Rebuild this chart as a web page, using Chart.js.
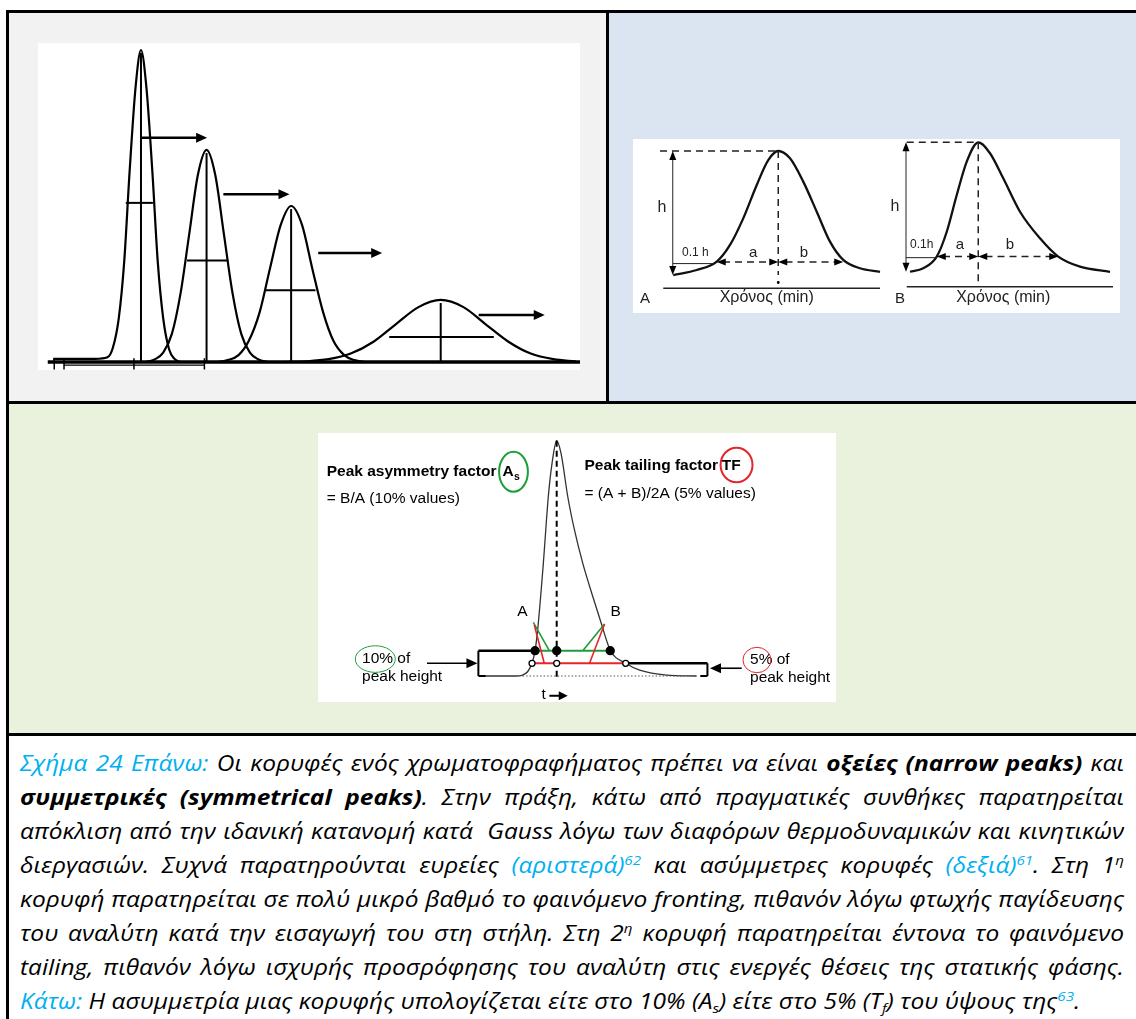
<!DOCTYPE html>
<html>
<head>
<meta charset="utf-8">
<script src="https://cdn.jsdelivr.net/npm/chart.js@4.4.1/dist/chart.umd.min.js"></script>
<style>
  body { margin: 0; background: #fff; width: 1136px; height: 1019px; overflow: hidden; position: relative; }
  .blk { position: absolute; }
  canvas { position: absolute; background: #fff; }
  #caption { position: absolute; left: 20px; top: 746px; width: 1104px; transform-origin: 0 0; font-family: "Open Sans", sans-serif; font-style: italic; font-size: 21px; line-height: 34px; color: #000; }
  #caption div { text-align: justify; text-align-last: justify; height: 34px; }
  #caption div.last { text-align-last: left; }
  #caption .c { color: #00b0f0; }
  #caption b { font-weight: 700; }
  #caption sup { font-size: 13px; vertical-align: 8px; line-height: 0; }
  #caption sub { font-size: 13px; vertical-align: -4px; line-height: 0; }
</style>
</head>
<body>
<!-- cell backgrounds and table rules -->
<div class="blk" style="left:9px;top:13px;width:597px;height:388px;background:#f2f2f2"></div>
<div class="blk" style="left:609px;top:13px;width:527px;height:388px;background:#dbe5f1"></div>
<div class="blk" style="left:9px;top:404px;width:1127px;height:329px;background:#eaf1dd"></div>
<div class="blk" style="left:6px;top:10px;width:1130px;height:3px;background:#000"></div>
<div class="blk" style="left:6px;top:10px;width:3px;height:1009px;background:#000"></div>
<div class="blk" style="left:606px;top:10px;width:3px;height:393px;background:#000"></div>
<div class="blk" style="left:6px;top:401px;width:1130px;height:3px;background:#000"></div>
<div class="blk" style="left:6px;top:733px;width:1130px;height:3px;background:#000"></div>

<canvas id="peaksChart" width="542" height="327" style="left:38px;top:43px"></canvas>
<canvas id="shapeChart" width="487" height="174" style="left:633px;top:139px"></canvas>
<canvas id="tailChart" width="518" height="269" style="left:318px;top:433px"></canvas>

<div id="caption">
  <div><span class="c">Σχήμα 24 Επάνω:</span> Οι κορυφές ενός χρωματοφραφήματος πρέπει να είναι <b>οξείες (narrow peaks)</b> και</div>
  <div><b>συμμετρικές (symmetrical peaks)</b>. Στην πράξη, κάτω από πραγματικές συνθήκες παρατηρείται</div>
  <div>απόκλιση από την ιδανική κατανομή κατά&nbsp; Gauss λόγω των διαφόρων θερμοδυναμικών και κινητικών</div>
  <div>διεργασιών. Συχνά παρατηρούνται ευρείες <span class="c">(αριστερά)<sup>62</sup></span> και ασύμμετρες κορυφές <span class="c">(δεξιά)<sup>61</sup></span>. Στη 1<sup>η</sup></div>
  <div>κορυφή παρατηρείται σε πολύ μικρό βαθμό το φαινόμενο fronting, πιθανόν λόγω φτωχής παγίδευσης</div>
  <div>του αναλύτη κατά την εισαγωγή του στη στήλη. Στη 2<sup>η</sup> κορυφή παρατηρείται έντονα το φαινόμενο</div>
  <div>tailing, πιθανόν λόγω ισχυρής προσρόφησης του αναλύτη στις ενεργές θέσεις της στατικής φάσης.</div>
  <div class="last"><span class="c">Κάτω:</span> Η ασυμμετρία μιας κορυφής υπολογίζεται είτε στο 10% (A<sub>s</sub>) είτε στο 5% (T<sub>f</sub>) του ύψους της<span class="c"><sup>63</sup></span>.</div>
</div>

<script>
var SANS = '"Liberation Sans", Arial, sans-serif';

// top-left: four peaks moving along the column (time in a.u., response in % of first peak)
var peak1X = [2.8, 10.6, 12.8, 13.8, 14.9, 15.9, 16.9, 18.0, 19.0, 20.0, 21.1, 22.1, 23.1, 24.2, 25.2, 26.2];
var peak1Y = [1, 1, 1.5, 4.5, 14, 32, 61, 88, 100, 88, 61, 32, 14, 4, 1, 0];
var peak2X = [19.9, 21.5, 23.1, 24.7, 26.3, 27.9, 29.5, 31.1, 32.7, 34.3, 35.9, 37.5, 39.1, 40.7, 42.3];
var peak2Y = [0, 0.8, 3, 9, 22, 41, 60, 68, 60, 41, 22, 9, 3, 0.8, 0];
var peak3X = [33.1, 35.0, 37.0, 38.9, 40.9, 42.8, 44.8, 46.7, 48.7, 50.6, 52.6, 54.5, 56.5, 58.4, 60.4];
var peak3Y = [0, 0.6, 2.2, 6.8, 16, 30, 44, 50, 44, 30, 16, 6.8, 2.2, 0.6, 0];
var peak4X = [45.3, 49.4, 53.6, 57.7, 61.9, 66.0, 70.2, 74.3, 78.5, 82.6, 86.8, 90.9, 95.1, 99.2];
var peak4Y = [0, 0.2, 0.9, 2.7, 6.5, 12.1, 17.6, 19.9, 17.6, 12.1, 6.5, 2.7, 0.9, 0.2];
var peakCentre = [19.0, 31.1, 46.7, 74.3];
var peakTop = [100, 68, 50, 19.9];
var halfLevel = [51, 32.5, 23, 8];
var halfLeft = [16.2, 27.5, 42.0, 64.8];
var halfRight = [21.2, 35.1, 51.2, 84.1];
var moveFrom = [19.0, 34.2, 51.7, 81.3];
var moveTo = [31.2, 46.4, 63.5, 93.5];
var moveLevel = [71.9, 53.8, 34.9, 15.1];

// top-right: symmetric (A) and tailing (B) peak, time in min
var curveAX = [1.61, 2.55, 3.35, 3.88, 4.41, 4.95, 5.41, 5.81, 6.28, 6.81, 7.35, 7.88, 8.41, 9.08, 9.88];
var curveAY = [21.8, 24.7, 29.5, 39.1, 54.4, 73.6, 87.9, 93.1, 88.9, 75.5, 58.2, 41.0, 30.5, 25.7, 23.7];
var curveBX = [11.08, 11.61, 12.15, 12.55, 12.95, 13.35, 13.81, 14.28, 14.81, 15.48, 16.28, 17.01, 17.88, 19.08];
var curveBY = [23.7, 25.7, 32.4, 46.7, 67.8, 87.0, 98.1, 91.8, 77.4, 58.2, 42.9, 32.4, 26.6, 23.7];

// bottom: tailing peak used for As / TF (t in s, signal in % of peak height)
var tailX = [16.2, 19.1, 19.75, 20.23, 20.66, 20.95, 21.2, 21.75, 22.23, 22.59, 23.04, 23.46, 24.11, 24.76, 25.56, 26.53, 27.34, 28.21, 29.70, 31.05, 33.64, 36.55];
var tailY = [0, 0, 0.4, 1.8, 5.4, 10.75, 19.5, 47.9, 76.2, 90.4, 100, 94.6, 76.2, 62.0, 47.9, 33.7, 22.4, 11.0, 5.4, 2.5, 0.4, 0];

function pts(xs, ys) {
    return xs.map(function (x, i) { return { x: x, y: ys[i] }; });
}
function curve(xs, ys, w, col) {
    return { data: pts(xs, ys), showLine: true, borderColor: col || '#000', borderWidth: w,
             pointRadius: 0, fill: false, cubicInterpolationMode: 'monotone' };
}

// small drawing helpers, everything goes through the chart scales
function X(c, v) { return c.scales.x.getPixelForValue(v); }
function Y(c, v) { return c.scales.y.getPixelForValue(v); }
function seg(c, x0, y0, x1, y1, w, col, dash) {
    var ctx = c.ctx;
    ctx.save();
    ctx.beginPath();
    ctx.lineWidth = w;
    ctx.strokeStyle = col || '#000';
    ctx.setLineDash(dash || []);
    ctx.moveTo(X(c, x0), Y(c, y0));
    ctx.lineTo(X(c, x1), Y(c, y1));
    ctx.stroke();
    ctx.restore();
}
function head(c, x, y, dir, len, half) {
    var ctx = c.ctx, px = X(c, x), py = Y(c, y);
    ctx.save();
    ctx.fillStyle = '#000';
    ctx.beginPath();
    ctx.moveTo(px, py);
    if (dir === 'r') { ctx.lineTo(px - len, py - half); ctx.lineTo(px - len, py + half); }
    if (dir === 'l') { ctx.lineTo(px + len, py - half); ctx.lineTo(px + len, py + half); }
    if (dir === 'u') { ctx.lineTo(px - half, py + len); ctx.lineTo(px + half, py + len); }
    if (dir === 'd') { ctx.lineTo(px - half, py - len); ctx.lineTo(px + half, py - len); }
    ctx.closePath();
    ctx.fill();
    ctx.restore();
}
function label(c, str, x, y, font, align, col) {
    var ctx = c.ctx;
    ctx.save();
    ctx.font = font;
    ctx.fillStyle = col || '#000';
    ctx.textAlign = align || 'left';
    ctx.textBaseline = 'middle';
    ctx.fillText(str, X(c, x), Y(c, y));
    var w = ctx.measureText(str).width;
    ctx.restore();
    return w;
}
function ring(c, x, y, rx, ry, col, w) {
    var ctx = c.ctx;
    ctx.save();
    ctx.beginPath();
    ctx.strokeStyle = col;
    ctx.lineWidth = w;
    ctx.ellipse(X(c, x), Y(c, y), Math.abs(X(c, x + rx) - X(c, x)), Math.abs(Y(c, y + ry) - Y(c, y)), 0, 0, Math.PI * 2);
    ctx.stroke();
    ctx.restore();
}
function dot(c, x, y, r, filled) {
    var ctx = c.ctx;
    ctx.save();
    ctx.beginPath();
    ctx.arc(X(c, x), Y(c, y), r, 0, Math.PI * 2);
    ctx.fillStyle = filled ? '#000' : '#fff';
    ctx.fill();
    ctx.lineWidth = 1.3;
    ctx.strokeStyle = '#000';
    ctx.stroke();
    ctx.restore();
}

function makeChart(id, xr, yr, datasets, extras) {
    return new Chart(document.getElementById(id), {
        type: 'scatter',
        data: { datasets: datasets },
        options: {
            responsive: false,
            animation: false,
            layout: { padding: 0 },
            plugins: { legend: { display: false }, tooltip: { enabled: false } },
            scales: {
                x: { type: 'linear', min: xr[0], max: xr[1], display: false },
                y: { type: 'linear', min: yr[0], max: yr[1], display: false }
            }
        },
        plugins: [{ id: 'extras', afterDatasetsDraw: extras }]
    });
}

// ---- top-left
makeChart('peaksChart', [0, 100], [-2.56, 102.24], [
    curve(peak1X, peak1Y, 2.2), curve(peak2X, peak2Y, 2.2), curve(peak3X, peak3Y, 2.2), curve(peak4X, peak4Y, 2.2)
], function (c) {
    seg(c, 1.8, 0, 100, 0, 3.5);
    seg(c, 4.8, -1, 30.7, -1, 1.2);
    [3.0, 4.8, 17.7, 30.7].forEach(function (t) { seg(c, t, -2.4, t, 1.2, 1.5); });
    for (var i = 0; i < 4; i++) {
        seg(c, peakCentre[i], 0, peakCentre[i], peakTop[i] - 1, 2);
        seg(c, halfLeft[i], halfLevel[i], halfRight[i], halfLevel[i], 2);
        seg(c, moveFrom[i], moveLevel[i], moveTo[i] - 1.5, moveLevel[i], 2.5);
        head(c, moveTo[i], moveLevel[i], 'r', 11, 5);
    }
});

// ---- top-right
makeChart('shapeChart', [0, 19.48], [0, 100], [
    curve(curveAX, curveAY, 2.3, '#111'), curve(curveBX, curveBY, 2.3, '#111')
], function (c) {
    var dash = [7, 5], g = '#222';
    // A
    seg(c, 1.21, 14.2, 9.88, 14.2, 1.5, g);
    seg(c, 1.08, 93.1, 5.81, 93.1, 1.5, g, dash);
    seg(c, 5.81, 93.1, 5.81, 21.8, 1.5, g, dash);
    seg(c, 1.59, 90, 1.59, 25, 1, g);
    head(c, 1.59, 93.1, 'u', 9, 3.5);
    head(c, 1.59, 21.8, 'd', 9, 3.5);
    seg(c, 1.6, 28.4, 3.2, 28.4, 1, g);
    seg(c, 3.6, 29.3, 5.5, 29.3, 1.5, g, dash);
    seg(c, 6.1, 29.3, 8.1, 29.3, 1.5, g, dash);
    head(c, 3.35, 29.3, 'l', 9, 3.5);
    head(c, 5.81, 29.3, 'r', 9, 3.5);
    head(c, 5.81, 29.3, 'l', 9, 3.5);
    head(c, 8.41, 29.3, 'r', 9, 3.5);
    dot(c, 5.81, 17.5, 0.8, true);
    label(c, 'h', 1.16, 60.3, '16px ' + SANS, 'center', g);
    label(c, '0.1 h', 1.96, 34.8, '12px ' + SANS, 'left', g);
    label(c, 'a', 4.81, 34.8, '15px ' + SANS, 'center', g);
    label(c, 'b', 6.84, 34.8, '15px ' + SANS, 'center', g);
    label(c, 'A', 0.48, 8.4, '15px ' + SANS, 'center', g);
    label(c, 'Χρόνος (min)', 5.35, 8.8, '16px ' + SANS, 'center', g);
    // B
    seg(c, 10.95, 15.1, 19.2, 15.1, 1.5, g);
    seg(c, 10.95, 98.1, 13.81, 98.1, 1.5, g, dash);
    seg(c, 13.81, 98.1, 13.81, 18.0, 1.5, g, dash);
    seg(c, 10.92, 95, 10.92, 27, 1, g);
    head(c, 10.92, 98.1, 'u', 9, 3.5);
    head(c, 10.92, 23.7, 'd', 9, 3.5);
    seg(c, 10.92, 31.8, 12.15, 31.8, 1, g);
    seg(c, 12.4, 32.4, 13.5, 32.4, 1.5, g, dash);
    seg(c, 14.1, 32.4, 16.7, 32.4, 1.5, g, dash);
    head(c, 12.15, 32.4, 'l', 9, 3.5);
    head(c, 13.81, 32.4, 'r', 9, 3.5);
    head(c, 13.81, 32.4, 'l', 9, 3.5);
    head(c, 17.01, 32.4, 'r', 9, 3.5);
    label(c, 'h', 10.48, 61.1, '16px ' + SANS, 'center', g);
    label(c, '0.1h', 11.08, 39.1, '12px ' + SANS, 'left', g);
    label(c, 'a', 13.08, 39.1, '15px ' + SANS, 'center', g);
    label(c, 'b', 15.08, 39.1, '15px ' + SANS, 'center', g);
    label(c, 'B', 10.68, 8.4, '15px ' + SANS, 'center', g);
    label(c, 'Χρόνος (min)', 14.81, 8.8, '16px ' + SANS, 'center', g);
});

// ---- bottom
makeChart('tailChart', [0, 50], [-11.05, 103.3], [
    curve(tailX, tailY, 1.3, '#333')
], function (c) {
    var green = '#1e9e3a', red = '#e3262b';
    var bold = 'bold 15.5px ' + SANS, reg = '15.5px ' + SANS;
    label(c, 'Peak asymmetry factor', 0.84, 86.8, bold);
    var wA = label(c, 'A', 17.8, 86.8, bold);
    c.ctx.save();
    c.ctx.font = 'bold 10.5px ' + SANS;
    c.ctx.textBaseline = 'middle';
    c.ctx.fillText('s', X(c, 17.8) + wA + 0.5, Y(c, 86.8) + 5);
    c.ctx.restore();
    ring(c, 18.87, 86.8, 1.39, 8.5, green, 2);
    label(c, '= B/A (10% values)', 0.84, 75.5, reg);
    label(c, 'Peak tailing factor', 25.72, 89.2, bold);
    label(c, 'TF', 38.98, 89.2, bold);
    ring(c, 40.4, 89.7, 1.54, 7.35, red, 2);
    label(c, '= (A + B)/2A (5% values)', 25.72, 77.3, reg);

    // baseline and level markers
    seg(c, 19.75, 0, 36.55, 0, 1, '#555', [1.5, 2]);
    seg(c, 23.04, 100, 23.04, -1.7, 2, '#000', [6, 4]);
    seg(c, 15.48, 10.75, 20.95, 10.75, 2.5);
    seg(c, 15.48, 10.75, 15.48, 0, 2);
    seg(c, 15.48, 0, 16.2, 0, 2);
    seg(c, 29.70, 5.4, 37.59, 5.4, 2.5);
    seg(c, 37.59, 5.4, 37.59, 0, 2);
    seg(c, 36.9, 0, 37.59, 0, 2);
    seg(c, 20.95, 10.75, 28.21, 10.75, 2, green);
    seg(c, 20.66, 5.4, 29.70, 5.4, 2, red);
    seg(c, 20.78, 22.8, 22.33, 10.75, 1.6, green);
    seg(c, 20.88, 21.7, 21.84, 5.4, 1.6, red);
    seg(c, 27.66, 22.1, 25.56, 10.75, 1.6, green);
    seg(c, 27.66, 22.1, 26.21, 5.4, 1.6, red);
    dot(c, 20.95, 10.75, 4, true);
    dot(c, 23.04, 10.75, 4, true);
    dot(c, 28.21, 10.75, 4, true);
    dot(c, 20.66, 5.4, 3, false);
    dot(c, 23.04, 5.4, 3, false);
    dot(c, 29.70, 5.4, 3, false);
    label(c, 'A', 19.74, 27.3, reg, 'center');
    label(c, 'B', 28.73, 27.3, reg, 'center');

    // side notes
    seg(c, 10.52, 5.4, 14.4, 5.4, 1.6);
    head(c, 15.39, 5.4, 'r', 11, 5);
    seg(c, 40.9, 3.3, 38.8, 3.3, 1.6);
    head(c, 37.84, 3.3, 'l', 11, 5);
    label(c, '10% of', 4.25, 7.2, reg);
    label(c, 'peak height', 4.25, -0.3, reg);
    ring(c, 5.53, 7.2, 1.93, 5.65, green, 1);
    label(c, '5% of', 41.7, 6.8, reg);
    label(c, 'peak height', 41.7, -0.85, reg);
    ring(c, 42.37, 6.8, 1.35, 5.4, red, 1);

    label(c, 't', 21.79, -8.1, reg, 'center');
    seg(c, 22.33, -8.4, 23.3, -8.4, 2);
    head(c, 24.11, -8.4, 'r', 9, 4.5);
});

// caption: stretch the glyphs horizontally so the longest row fills the text width
var cap = document.getElementById('caption');
var rows = cap.querySelectorAll('div');
var widest = 0;
rows.forEach(function (r) {
    r.style.display = 'inline-block';
    r.style.whiteSpace = 'nowrap';
    widest = Math.max(widest, r.getBoundingClientRect().width);
});
rows.forEach(function (r) {
    r.style.display = '';
    r.style.whiteSpace = '';
});
var stretch = 1104 / (widest + 4);
cap.style.width = (1104 / stretch) + 'px';
cap.style.transform = 'scaleX(' + stretch + ')';
</script>
</body>
</html>
